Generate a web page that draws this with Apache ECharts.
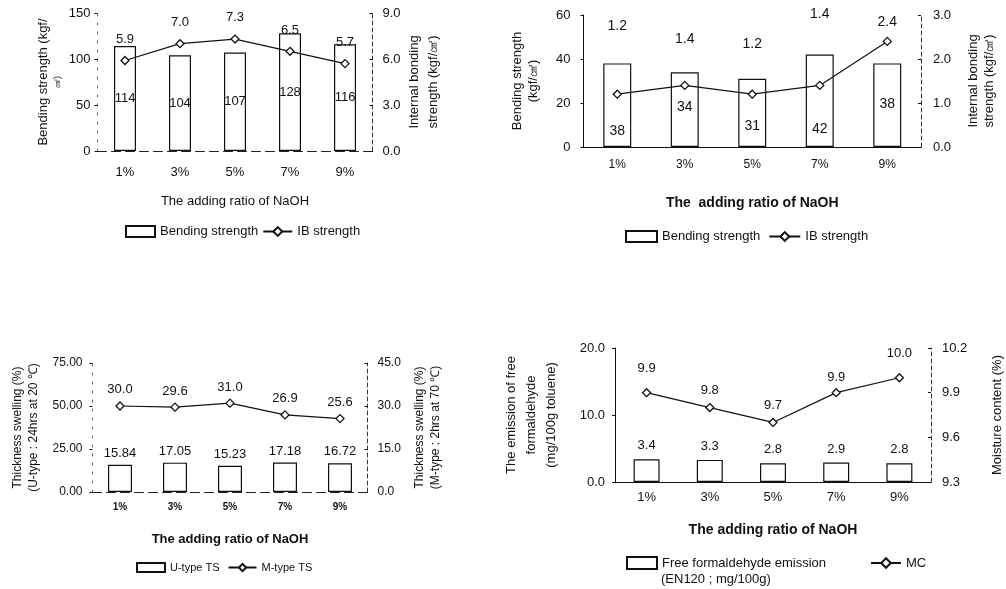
<!DOCTYPE html>
<html>
<head>
<meta charset="utf-8">
<script src="https://cdn.jsdelivr.net/npm/echarts@6/dist/echarts.min.js"></script>
<style>
html,body{margin:0;padding:0;background:#fff;}
#chart{width:1006px;height:589px;}
</style>
</head>
<body>
<div id="chart"></div>
<script>
// ---------- DATA ----------
const categories = ['1%', '3%', '5%', '7%', '9%'];

// Panel 1 (top-left)
const bendingP1 = [114, 104, 107, 128, 116];
const ibP1 = [5.9, 7.0, 7.3, 6.5, 5.7];
const ticksP1Left = [0, 50, 100, 150];
const ticksP1Right = [0, 3, 6, 9];

// Panel 2 (top-right)
const bendingP2 = [38, 34, 31, 42, 38];
const ibP2 = [1.2, 1.4, 1.2, 1.4, 2.4];
const ticksP2Left = [0, 20, 40, 60];
const ticksP2Right = [0, 1, 2, 3];

// Panel 3 (bottom-left)
const tsU = [15.84, 17.05, 15.23, 17.18, 16.72];
const tsM = [30.0, 29.6, 31.0, 26.9, 25.6];
const ticksP3Left = [0, 25, 50, 75];
const ticksP3Right = [0, 15, 30, 45];

// Panel 4 (bottom-right)
const hcho = [3.4, 3.3, 2.8, 2.9, 2.8];
const mc = [9.9, 9.8, 9.7, 9.9, 10.0];
const ticksP4Left = [0, 10, 20];
const ticksP4Right = [9.3, 9.6, 9.9, 10.2];

// ---------- STYLE (label nudges, px) ----------
const p2BarLabelShift = [26, -2, 13, 28, -1];
const p2LineLabelShift = [-51, -30, -33, -55, -3];
const p4LineLabelShift = [-7, 0, 0, 2, -7];

const FONT = 'Liberation Sans, Arial, Helvetica, sans-serif';
const BLACK = '#111';

function rng(t) {
  return { min: t[0], max: t[t.length - 1], interval: +(t[1] - t[0]).toFixed(4) };
}

function yAx(grid, ticks, dec, side, opts) {
  const r = rng(ticks);
  return Object.assign({
    type: 'value', gridIndex: grid, position: side,
    min: r.min, max: r.max, interval: r.interval,
    splitLine: { show: false },
    axisLine: { show: true, lineStyle: { color: BLACK, width: 1 } },
    axisTick: { show: true, length: 3, inside: side === 'right', lineStyle: { color: BLACK } },
    axisLabel: { color: BLACK, fontFamily: FONT, fontSize: 13, formatter: v => v.toFixed(dec) },
    nameLocation: 'middle', nameRotate: 90,
    nameTextStyle: { color: BLACK, fontFamily: FONT, fontSize: 13, lineHeight: 16, align: 'center' }
  }, opts || {});
}

function xAx(grid, opts) {
  return Object.assign({
    type: 'category', gridIndex: grid, data: categories,
    axisTick: { show: false },
    axisLine: { show: true, lineStyle: { color: BLACK, width: 1 } },
    axisLabel: { color: BLACK, fontFamily: FONT, fontSize: 13 },
    nameLocation: 'middle',
    nameTextStyle: { color: BLACK, fontFamily: FONT, fontSize: 13 }
  }, opts || {});
}

const barStyle = { color: '#fff', borderColor: BLACK, borderWidth: 1.2 };
const lineSeries = (name, x, y, data, labelOpts, dataMap) => ({
  name, type: 'line', xAxisIndex: x, yAxisIndex: y,
  data: dataMap ? data.map(dataMap) : data,
  symbol: 'diamond', symbolSize: 8,
  itemStyle: { color: '#fff', borderColor: BLACK, borderWidth: 1.3 },
  lineStyle: { color: BLACK, width: 1.2 },
  label: Object.assign({ show: true, position: 'top', color: BLACK, fontFamily: FONT, fontSize: 13,
    formatter: p => Number(p.value).toFixed(1) }, labelOpts || {}),
  z: 5
});

const dashedRight = { show: true, lineStyle: { color: '#333', width: 1, type: [4, 3] } };
const faintLeft = { show: true, lineStyle: { color: '#666', width: 1, type: [2, 7] } };
const dashedX = { show: true, lineStyle: { color: '#222', width: 1, type: [9, 5] } };

const legendText = { color: BLACK, fontFamily: FONT, fontSize: 13 };

const option = {
  backgroundColor: '#fff',
  animation: false,
  grid: [
    { left: 97.5, right: 1006 - 372.5, top: 13, bottom: 589 - 151 },
    { left: 583.5, right: 1006 - 921, top: 15, bottom: 589 - 147 },
    { left: 92.5, right: 1006 - 367.5, top: 363, bottom: 589 - 492 },
    { left: 615, right: 1006 - 932, top: 348, bottom: 589 - 482 }
  ],
  xAxis: [
    xAx(0, { axisLine: dashedX, axisLabel: { color: BLACK, fontFamily: FONT, fontSize: 13, margin: 15 },
      name: 'The adding ratio of NaOH', nameGap: 44,
      nameTextStyle: { color: BLACK, fontFamily: FONT, fontSize: 13 } }),
    xAx(1, { axisLabel: { color: BLACK, fontFamily: FONT, fontSize: 12, margin: 12 },
      name: 'The  adding ratio of NaOH', nameGap: 49,
      nameTextStyle: { color: BLACK, fontFamily: FONT, fontSize: 14, fontWeight: 'bold' } }),
    xAx(2, { axisLine: dashedX, axisLabel: { color: BLACK, fontFamily: FONT, fontSize: 10, fontWeight: 'bold', margin: 10 },
      name: 'The adding ratio of NaOH', nameGap: 41,
      nameTextStyle: { color: BLACK, fontFamily: FONT, fontSize: 13, fontWeight: 'bold' } }),
    xAx(3, { axisLabel: { color: BLACK, fontFamily: FONT, fontSize: 13, margin: 9 },
      name: 'The adding ratio of NaOH', nameGap: 41,
      nameTextStyle: { color: BLACK, fontFamily: FONT, fontSize: 14, fontWeight: 'bold' } })
  ],
  yAxis: [
    yAx(0, ticksP1Left, 0, 'left', {
      axisLine: faintLeft,
      axisLabel: { color: BLACK, fontFamily: FONT, fontSize: 13, margin: 7, formatter: v => v.toFixed(0) },
      name: '{a|Bending strength (kgf/}\n{b|㎠)}', nameGap: 34,
      nameTextStyle: { color: BLACK, fontFamily: FONT, align: 'center',
        rich: { a: { fontFamily: FONT, fontSize: 13, lineHeight: 16, color: BLACK }, b: { fontFamily: FONT, fontSize: 9, lineHeight: 12, color: BLACK } } }
    }),
    yAx(0, ticksP1Right, 1, 'right', {
      axisLine: dashedRight,
      axisLabel: { color: BLACK, fontFamily: FONT, fontSize: 13, margin: 10, formatter: v => v.toFixed(1) },
      name: 'Internal bonding\nstrength (kgf/㎠)', nameGap: 26,
      nameTextStyle: { color: BLACK, fontFamily: FONT, fontSize: 13, lineHeight: 19, align: 'center' }
    }),
    yAx(1, ticksP2Left, 0, 'left', {
      axisLabel: { color: BLACK, fontFamily: FONT, fontSize: 13, margin: 13, formatter: v => v.toFixed(0) },
      name: 'Bending strength\n(kgf/㎠)', nameGap: 42
    }),
    yAx(1, ticksP2Right, 1, 'right', {
      axisLine: dashedRight,
      axisLabel: { color: BLACK, fontFamily: FONT, fontSize: 13, margin: 12, formatter: v => v.toFixed(1) },
      name: 'Internal bonding\nstrength (kgf/㎠)', nameGap: 44
    }),
    yAx(2, ticksP3Left, 2, 'left', {
      axisLine: faintLeft,
      axisLabel: { color: BLACK, fontFamily: FONT, fontSize: 12, margin: 10, formatter: v => v.toFixed(2) },
      name: 'Thickness swelling (%)\n(U-type : 24hrs at 20 ℃)', nameGap: 51,
      nameTextStyle: { color: BLACK, fontFamily: FONT, fontSize: 12, lineHeight: 16, align: 'center' }
    }),
    yAx(2, ticksP3Right, 1, 'right', {
      axisLine: dashedRight,
      axisLabel: { color: BLACK, fontFamily: FONT, fontSize: 12, margin: 10, formatter: v => v.toFixed(1) },
      name: 'Thickness swelling (%)\n(M-type : 2hrs at 70 ℃)', nameGap: 44,
      nameTextStyle: { color: BLACK, fontFamily: FONT, fontSize: 12, lineHeight: 16, align: 'center' }
    }),
    yAx(3, ticksP4Left, 1, 'left', {
      axisLabel: { color: BLACK, fontFamily: FONT, fontSize: 13, margin: 10, formatter: v => v.toFixed(1) },
      name: 'The emission of free\nformaldehyde\n(mg/100g toluene)', nameGap: 54,
      nameTextStyle: { color: BLACK, fontFamily: FONT, fontSize: 13, lineHeight: 20, align: 'center' }
    }),
    yAx(3, ticksP4Right, 1, 'right', {
      axisLine: dashedRight,
      axisLabel: { color: BLACK, fontFamily: FONT, fontSize: 13, margin: 11, formatter: v => v.toFixed(1) },
      name: 'Moisture content (%)', nameGap: 58
    })
  ],
  legend: [
    { left: 125, top: 225, padding: 0, itemWidth: 29, itemHeight: 11, itemGap: 4, textStyle: legendText,
      data: [{ name: 'Bending strength', icon: 'rect' }, { name: 'IB strength' }] },
    { left: 625, top: 230, padding: 0, itemWidth: 31, itemHeight: 11, itemGap: 8, textStyle: legendText,
      data: [{ name: 'Bending strength', icon: 'rect' }, { name: 'IB strength' }] },
    { left: 136, top: 562, padding: 0, itemWidth: 28, itemHeight: 9, itemGap: 8, textStyle: Object.assign({}, legendText, { fontSize: 11 }),
      data: [{ name: 'U-type TS', icon: 'rect' }, { name: 'M-type TS' }] },
    { left: 626, top: 556, padding: 0, itemWidth: 30, itemHeight: 12, itemGap: 44, textStyle: legendText,
      data: [{ name: 'Free formaldehyde emission', icon: 'rect' }, { name: 'MC' }] }
  ],
  graphic: [
    { type: 'text', left: 661, top: 573, style: { text: '(EN120 ; mg/100g)', fill: BLACK, font: '13px ' + FONT } }
  ],
  series: [
    // Panel 1
    { name: 'Bending strength', type: 'bar', xAxisIndex: 0, yAxisIndex: 0, data: bendingP1, barWidth: 22,
      itemStyle: barStyle,
      label: { show: true, position: 'inside', color: BLACK, fontFamily: FONT, fontSize: 13 } },
    lineSeries('IB strength', 0, 1, ibP1, { distance: 10 }),
    // Panel 2
    { name: 'Bending strength', type: 'bar', xAxisIndex: 1, yAxisIndex: 2, barWidth: 28,
      data: bendingP2.map((v, i) => ({ value: v, label: { offset: [0, p2BarLabelShift[i]] } })),
      itemStyle: barStyle,
      label: { show: true, position: 'inside', color: BLACK, fontFamily: FONT, fontSize: 14 } },
    lineSeries('IB strength', 1, 3, ibP2, { distance: 5, fontSize: 14 },
      (v, i) => ({ value: v, label: { offset: [0, p2LineLabelShift[i]] } })),
    // Panel 3
    { name: 'U-type TS', type: 'bar', xAxisIndex: 2, yAxisIndex: 4, data: tsU, barWidth: 24,
      itemStyle: barStyle,
      label: { show: true, position: 'top', distance: 5, color: BLACK, fontFamily: FONT, fontSize: 13,
        formatter: p => Number(p.value).toFixed(2) } },
    lineSeries('M-type TS', 2, 5, tsM, { distance: 5, fontSize: 13 }),
    // Panel 4
    { name: 'Free formaldehyde emission', type: 'bar', xAxisIndex: 3, yAxisIndex: 6, data: hcho, barWidth: 26,
      itemStyle: barStyle,
      label: { show: true, position: 'top', distance: 7, color: BLACK, fontFamily: FONT, fontSize: 13,
        formatter: p => Number(p.value).toFixed(1) } },
    lineSeries('MC', 3, 7, mc, { distance: 6, fontSize: 13 },
      (v, i) => ({ value: v, label: { offset: [0, p4LineLabelShift[i]] } }))
  ]
};

const chart = echarts.init(document.getElementById('chart'), null, { renderer: 'canvas' });
chart.setOption(option);
</script>
</body>
</html>
